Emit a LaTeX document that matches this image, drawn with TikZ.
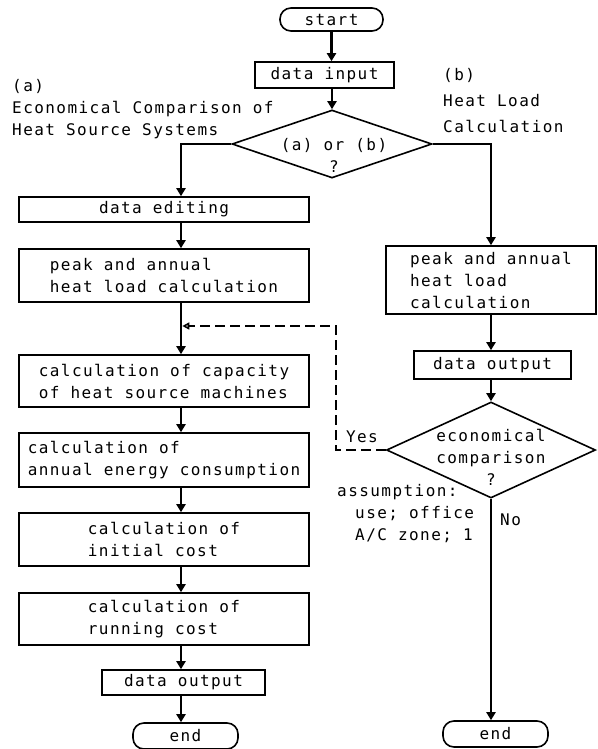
\documentclass[tikz,border=0pt]{standalone}
\usepackage{fontspec}
\newfontfamily\tw[LetterSpace=9]{DejaVu Sans Mono}
\usetikzlibrary{shapes.geometric,arrows.meta}

\begin{document}
\begin{tikzpicture}[x=1pt,y=-1pt,
    font=\tw\fontsize{16}{22}\selectfont,
    box/.style={draw,line width=1.6pt,inner sep=0pt,align=left},
    term/.style={draw,line width=1.6pt,inner sep=0pt,rounded corners=11pt},
    cond/.style={draw,diamond,line width=1.6pt,inner sep=0pt},
    txt/.style={inner sep=0pt,align=left},
    flow/.style={line width=2.6pt,-{Triangle[length=8pt,width=9pt]}},
    back/.style={line width=1.6pt,dash pattern=on 10pt off 5pt,-{Triangle[open,length=7pt,width=7pt]}}]
  \useasboundingbox (0,0) rectangle (597,749);

  \coordinate (colA) at (181,326);
  \coordinate (turn) at (336,326);

  \node[term,minimum width=103pt,minimum height=23pt] (start) at (331.5,19.5) {start};
  \node[box,minimum width=139pt,minimum height=26pt] (input) at (324.5,75) {data input};
  \node[cond,minimum width=200pt,minimum height=68pt] (ab) at (332,144) {};
  \node[txt,align=center] (abq) at (334,155) {(a) or (b)\\?};

  \node[txt,anchor=west] (titA) at (12,109) {(a)\\Economical Comparison of\\Heat Source Systems};
  \node[txt,anchor=west] (titB) at (443,101) {(b)\\[4pt]Heat Load\\[4pt]Calculation};

  \node[box,minimum width=290pt,minimum height=25pt] (edit) at (164,209.5) {data editing};
  \node[box,minimum width=290pt,minimum height=53pt] (peakA) at (164,275.5) {peak and annual\\heat load calculation};
  \node[box,minimum width=290pt,minimum height=52pt] (capa) at (164,381) {calculation of capacity\\of heat source machines};
  \node[box,minimum width=290pt,minimum height=54pt] (energy) at (164,460) {calculation of\\annual energy consumption};
  \node[box,minimum width=290pt,minimum height=53pt] (init) at (164,539.5) {calculation of\\initial cost};
  \node[box,minimum width=290pt,minimum height=52pt] (run) at (164,619) {calculation of\\running cost};
  \node[box,minimum width=163pt,minimum height=25pt] (outA) at (183.5,682.5) {data output};
  \node[term,minimum width=105pt,minimum height=26pt] (endA) at (185.5,736) {end};

  \node[box,minimum width=210pt,minimum height=68pt] (peakB) at (491,280) {peak and annual\\heat load\\calculation};
  \node[box,minimum width=157pt,minimum height=28pt] (outB) at (492.5,365) {data output};
  \node[cond,minimum width=209pt,minimum height=96pt] (eco) at (491,450) {};
  \node[txt,align=center] (ecoq) at (491,457) {economical\\comparison\\?};
  \node[term,minimum width=105pt,minimum height=26pt] (endB) at (495.5,734) {end};

  \node[txt] (yes) at (362,437) {Yes};
  \node[txt,anchor=west] (no) at (500,520) {No};
  \node[txt,anchor=north west] (assum) at (337,484) {assumption:\\\hspace*{18pt}use; office\\\hspace*{18pt}A/C zone; 1};

  \draw[flow] (start.south) -- (start.south |- input.north);
  \draw[flow] (input.south -| ab.north) -- (ab.north);
  \draw[flow] (ab.west) -| (edit.north -| colA);
  \draw[flow] (ab.east) -| (peakB.north);
  \draw[flow] (edit.south -| colA) -- (peakA.north -| colA);
  \draw[flow] (peakA.south -| colA) -- (capa.north -| colA);
  \draw[flow] (capa.south -| colA) -- (energy.north -| colA);
  \draw[flow] (energy.south -| colA) -- (init.north -| colA);
  \draw[flow] (init.south -| colA) -- (run.north -| colA);
  \draw[flow] (run.south -| colA) -- (outA.north -| colA);
  \draw[flow] (outA.south -| colA) -- (endA.north -| colA);
  \draw[flow] (peakB.south) -- (peakB.south |- outB.north);
  \draw[flow] (outB.south -| eco.north) -- (eco.north);
  \draw[flow] (eco.south) -- (eco.south |- endB.north);
  \draw[back] (eco.west) -| (turn) -- ([xshift=1.3pt]colA);
\end{tikzpicture}
\end{document}
